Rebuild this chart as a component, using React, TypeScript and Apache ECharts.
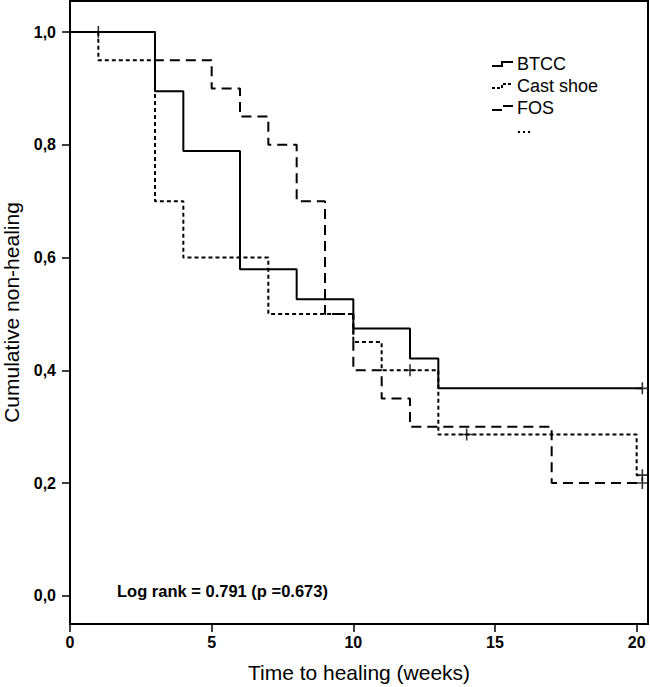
import React, { useEffect, useRef } from "react";
import * as echarts from "echarts";

// Kaplan-Meier step data (week of change, cumulative non-healing after it)
const btccWeeks = [0, 3, 4, 6, 8, 10, 12, 13, 20.2];
const btccSurv = [1.0, 0.895, 0.789, 0.579, 0.526, 0.474, 0.421, 0.368, 0.368];
const btccCensorWeeks = [20.2];
const btccCensorSurv = [0.368];

const castWeeks = [0, 1, 3, 4, 7, 10, 11, 13, 20, 20.2];
const castSurv = [1.0, 0.95, 0.7, 0.6, 0.5, 0.45, 0.4, 0.286, 0.214, 0.214];
const castCensorWeeks = [1, 12, 14, 20.2];
const castCensorSurv = [1.0, 0.4, 0.286, 0.214];

const fosWeeks = [0, 3, 5, 6, 7, 8, 9, 10, 11, 12, 17, 20.2];
const fosSurv = [1.0, 0.95, 0.9, 0.85, 0.8, 0.7, 0.5, 0.4, 0.35, 0.3, 0.2, 0.2];
const fosCensorWeeks = [20.2];
const fosCensorSurv = [0.2];

const xTicks = [0, 5, 10, 15, 20];
const yTicks = [0, 0.2, 0.4, 0.6, 0.8, 1.0];
const groupNames = ["BTCC", "Cast shoe", "FOS"];
const logRankText = "Log rank = 0.791 (p =0.673)";
const xAxisTitle = "Time to healing (weeks)";
const yAxisTitle = "Cumulative non-healing";

const FONT = "'Liberation Sans', Arial, Helvetica, sans-serif";

const pairs = (xs: number[], ys: number[]) => xs.map((x, i) => [x, ys[i]]);

const censorSymbol = "path://M0,6L12,6M6,0L6,12";

export default function App() {
  const ref = useRef<HTMLDivElement>(null);

  useEffect(() => {
    if (!ref.current) return;
    const chart = echarts.init(ref.current, null, { renderer: "svg" });

    const stepSeries = (name: string, xs: number[], ys: number[], dash: any, z: number) => ({
      name,
      type: "line",
      step: "end",
      data: pairs(xs, ys),
      showSymbol: false,
      symbol: "none",
      z,
      lineStyle: { color: "#000", width: 2, type: dash },
      emphasis: { disabled: true },
      silent: true,
    });

    const censorSeries = (name: string, xs: number[], ys: number[]) => ({
      name: name + " censored",
      type: "scatter",
      data: pairs(xs, ys),
      symbol: censorSymbol,
      symbolSize: 12,
      z: 10,
      itemStyle: { color: "transparent", borderColor: "#000", borderWidth: 1.6 },
      silent: true,
    });

    const legendRows = [64, 86, 108];
    const dashes: any[] = [null, [3, 2], [10, 5]];
    const graphics: any[] = [];
    groupNames.forEach((g, i) => {
      const cy = legendRows[i];
      graphics.push({
        type: "polyline",
        shape: { points: [[492, cy + 2], [502, cy + 2], [502, cy - 2], [513, cy - 2]] },
        style: { stroke: "#000", lineWidth: 2, fill: null, lineDash: dashes[i] },
      });
      graphics.push({
        type: "text",
        style: {
          text: g,
          x: 517,
          y: cy,
          fill: "#000",
          font: `18px ${FONT}`,
          textVerticalAlign: "middle",
          verticalAlign: "middle",
        },
      });
    });
    graphics.push({
      type: "polyline",
      shape: { points: [[518, 132], [531, 132]] },
      style: { stroke: "#000", lineWidth: 2, fill: null, lineDash: [2, 3] },
    });
    graphics.push({
      type: "text",
      style: {
        text: logRankText,
        x: 117,
        y: 591,
        fill: "#000",
        font: `bold 16.5px ${FONT}`,
        textVerticalAlign: "middle",
        verticalAlign: "middle",
      },
    });

    chart.setOption({
      animation: false,
      backgroundColor: "#fff",
      grid: {
        left: 70,
        right: 2,
        top: 1,
        bottom: 63,
        containLabel: false,
        outerBoundsMode: "none",
        show: true,
        borderColor: "#000",
        borderWidth: 2,
        backgroundColor: "transparent",
      },
      xAxis: {
        type: "value",
        min: 0,
        max: 20.4,
        interval: 5,
        name: xAxisTitle,
        nameLocation: "middle",
        nameGap: 38,
        nameTextStyle: { fontSize: 21, color: "#000", fontFamily: FONT },
        axisLine: { show: true, onZero: false, lineStyle: { color: "#000", width: 2 } },
        axisTick: { show: true, length: 8, lineStyle: { color: "#000", width: 1.5 }, customValues: xTicks },
        axisLabel: {
          color: "#000",
          fontWeight: "bold",
          fontSize: 16,
          fontFamily: FONT,
          margin: 10,
          customValues: xTicks,
          formatter: (v: number) => String(v),
        },
        splitLine: { show: false },
      },
      yAxis: {
        type: "value",
        min: -0.05,
        max: 1.055,
        name: yAxisTitle,
        nameLocation: "middle",
        nameGap: 48,
        nameTextStyle: { fontSize: 21, color: "#000", fontFamily: FONT },
        axisLine: { show: true, onZero: false, lineStyle: { color: "#000", width: 2 } },
        axisTick: { show: true, length: 8, lineStyle: { color: "#000", width: 1.5 }, customValues: yTicks },
        axisLabel: {
          color: "#000",
          fontWeight: "bold",
          fontSize: 16,
          fontFamily: FONT,
          margin: 14,
          customValues: yTicks,
          formatter: (v: number) => v.toFixed(1).replace(".", ","),
        },
        splitLine: { show: false },
      },
      series: [
        stepSeries("FOS", fosWeeks, fosSurv, [10, 6], 2),
        stepSeries("Cast shoe", castWeeks, castSurv, [4, 3], 3),
        stepSeries("BTCC", btccWeeks, btccSurv, "solid", 4),
        censorSeries("FOS", fosCensorWeeks, fosCensorSurv),
        censorSeries("Cast shoe", castCensorWeeks, castCensorSurv),
        censorSeries("BTCC", btccCensorWeeks, btccCensorSurv),
      ],
      graphic: graphics,
    });

    return () => chart.dispose();
  }, []);

  return <div ref={ref} style={{ width: 650, height: 687, position: "absolute", left: 0, top: 0 }} />;
}
